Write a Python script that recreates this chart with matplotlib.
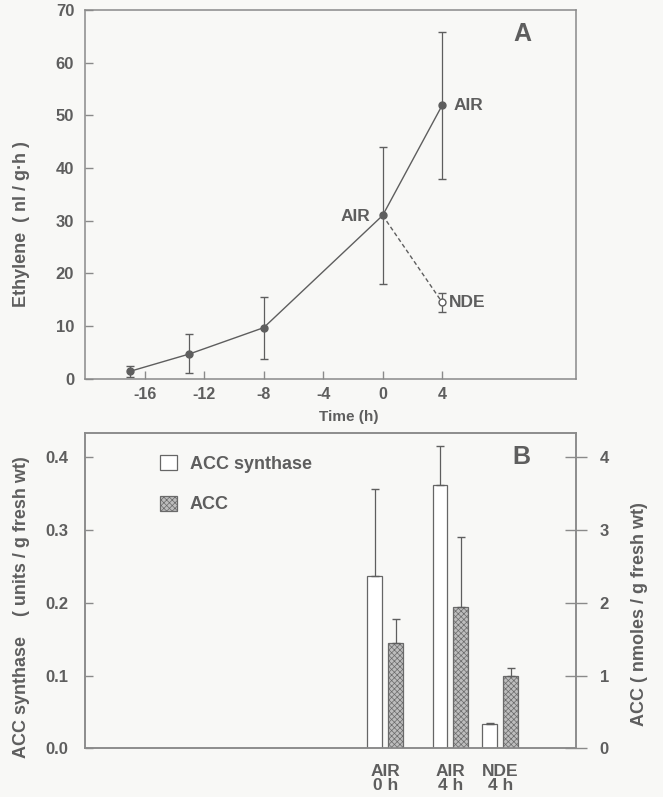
import numpy as np
import matplotlib
matplotlib.use("Agg")
import matplotlib.pyplot as plt
from matplotlib.patches import Patch

# panel A: ethylene production
time_h = [-17, -13, -8, 0, 4]
ethylene = [1.4, 4.7, 9.7, 31.0, 51.9]
ethylene_err = [1.1, 3.7, 5.9, 13.0, 14.0]
nde_time = [0, 4]
nde_ethylene = [31.0, 14.5]
nde_err = 1.85

# panel B: ACC synthase / ACC
groups = ["AIR\n0 h", "AIR\n4 h", "NDE\n4 h"]
acc_synthase = [0.237, 0.362, 0.033]
acc_synthase_err = [0.120, 0.054, 0.002]
acc = [1.45, 1.94, 0.99]
acc_err = [0.33, 0.96, 0.11]

GRAY = "#5e5e5e"
SPINE = "#8a8a8a"
plt.rcParams["font.family"] = ["Liberation Sans", "DejaVu Sans"]
plt.rcParams["font.weight"] = "bold"
plt.rcParams["axes.unicode_minus"] = False
plt.rcParams["text.color"] = GRAY
plt.rcParams["axes.labelcolor"] = GRAY
plt.rcParams["xtick.color"] = SPINE
plt.rcParams["ytick.color"] = SPINE
plt.rcParams["xtick.labelcolor"] = GRAY
plt.rcParams["ytick.labelcolor"] = GRAY
plt.rcParams["hatch.linewidth"] = 0.5

fig = plt.figure(figsize=(6.63, 7.97), dpi=100)
fig.patch.set_facecolor("#f8f8f6")

# ---------------- panel A ----------------
axA = fig.add_axes([0.1287, 0.5248, 0.740, 0.4627])
axA.set_facecolor("#f8f8f6")
axA.errorbar(time_h, ethylene, yerr=ethylene_err, color=GRAY, lw=1.0,
             marker="o", ms=5, capsize=3, elinewidth=0.9, ecolor=GRAY)
axA.plot(nde_time, nde_ethylene, color=GRAY, lw=1.0, ls=(0, (3, 2)))
axA.errorbar(nde_time[-1], nde_ethylene[-1], yerr=nde_err, color=GRAY,
             marker="o", ms=5, mfc="white", mec=GRAY, capsize=3,
             elinewidth=0.9, ls="none")
axA.annotate("AIR", (time_h[-1], ethylene[-1]), xytext=(8, 0),
             textcoords="offset points", va="center", ha="left",
             fontsize=12.5, fontweight="bold")
axA.annotate("AIR", (time_h[-2], ethylene[-2]), xytext=(-9, -1),
             textcoords="offset points", va="center", ha="right",
             fontsize=12.5, fontweight="bold")
axA.annotate("NDE", (nde_time[-1], nde_ethylene[-1]), xytext=(4.5, 0),
             textcoords="offset points", va="center", ha="left",
             fontsize=12.5, fontweight="bold")
axA.text(0.89, 0.935, "A", transform=axA.transAxes, fontsize=18,
         fontweight="bold", ha="center", va="center")
axA.set_xlim(-20, 13)
axA.set_ylim(0, 70)
axA.set_xticks([-16, -12, -8, -4, 0, 4])
axA.set_yticks(np.arange(0, 71, 10))
axA.tick_params(direction="in", length=6, width=1)
axA.tick_params(axis="x", labelsize=11.5, pad=6)
axA.tick_params(axis="y", labelsize=12, pad=8)
axA.set_xlabel("Time (h)", fontsize=11, fontweight="bold")
axA.xaxis.set_label_coords(0.537, -0.085)
axA.set_ylabel("Ethylene  ( nl / g\u00b7h )", fontsize=13, fontweight="bold")
axA.yaxis.set_label_coords(-0.112, 0.42)
for s in axA.spines.values():
    s.set_color(SPINE)
    s.set_linewidth(1.1)

# ---------------- panel B ----------------
group_x = np.array([0.17, 4.56, 7.9])
bar_w = 1.0
off = 0.7
axB = fig.add_axes([0.1287, 0.0611, 0.740, 0.3952])
axB.set_facecolor("#f8f8f6")
axB.bar(group_x - off, acc_synthase, bar_w, color="white", edgecolor="#666666",
        lw=0.9)
axB.errorbar(group_x - off, acc_synthase,
             yerr=[np.zeros(len(acc_synthase)), acc_synthase_err],
             ls="none", ecolor=GRAY, elinewidth=0.9, capsize=3)
axB.set_xlim(-20, 13)
axB.set_ylim(0, 0.433)
axB.set_yticks([0.0, 0.1, 0.2, 0.3, 0.4])
axB.yaxis.set_major_formatter(plt.FormatStrFormatter("%.1f"))
axB.set_xticks(group_x)
axB.set_xticklabels(groups, fontsize=12.5, fontweight="bold", linespacing=0.95)
axB.tick_params(axis="x", length=0, pad=11, labelcolor=GRAY)
axB.tick_params(axis="y", direction="in", length=6, width=1, labelsize=12,
                pad=12)
axB.set_ylabel("ACC synthase    ( units / g fresh wt)", fontsize=13,
               fontweight="bold")
axB.yaxis.set_label_coords(-0.112, 0.449)

axB2 = axB.twinx()
axB2.bar(group_x + off, acc, bar_w, color="#bdbdbd", edgecolor="#6a6a6a",
         lw=0.9, hatch="xxxxxx")
axB2.errorbar(group_x + off, acc, yerr=[np.zeros(len(acc)), acc_err],
              ls="none", ecolor=GRAY, elinewidth=0.9, capsize=3)
axB2.set_ylim(0, 4.33)
axB2.set_yticks([0, 1, 2, 3, 4])
axB2.tick_params(axis="y", direction="inout", length=16, width=1,
                 labelsize=12, pad=9)
axB2.set_ylabel("ACC ( nmoles / g fresh wt)", fontsize=13, fontweight="bold")
axB2.yaxis.set_label_coords(1.112, 0.426)
for ax in (axB, axB2):
    for s in ax.spines.values():
        s.set_color(SPINE)
        s.set_linewidth(1.1)

axB.text(0.889, 0.926, "B", transform=axB.transAxes, fontsize=18,
         fontweight="bold", ha="center", va="center")
handles = [Patch(facecolor="white", edgecolor="#666666", lw=0.9),
           Patch(facecolor="#bdbdbd", edgecolor="#6a6a6a", lw=0.9,
                 hatch="xxxxxx")]
axB.legend(handles, ["ACC synthase", "ACC"], loc="upper left",
           bbox_to_anchor=(0.152, 0.93), frameon=False,
           prop={"weight": "bold", "size": 13}, handlelength=0.95,
           handleheight=0.9, handletextpad=0.7, labelspacing=1.25,
           borderpad=0, borderaxespad=0)

fig.savefig("out.png", dpi=100, facecolor=fig.get_facecolor())
